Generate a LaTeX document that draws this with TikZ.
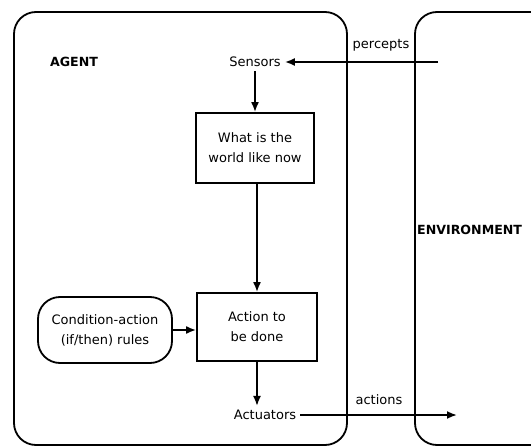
\documentclass[tikz,border=0pt]{standalone}
\usepackage{fontspec}
\setmainfont{DejaVu Sans}
\usetikzlibrary{arrows.meta}
\begin{document}
\begin{tikzpicture}[
                x=1pt, y=-1pt,
                caixa/.style={shape=rectangle, draw=black, line width=1.8pt, align=center, font=\fontsize{13}{20}\selectfont},
                regra/.style={caixa, rounded corners=22pt},
                texto/.style={font=\fontsize{13}{16}\selectfont, inner sep=4pt},
                titulo/.style={font=\fontsize{12.6}{15}\selectfont\bfseries},
                seta/.style={line width=1.8pt, -{Latex[length=10pt,width=8pt]}},
                borda/.style={line width=1.8pt, rounded corners=22pt},
            ]
            \useasboundingbox (0,0) rectangle (531,447);
            \clip (0,0) rectangle (531,447);

            \draw[borda] (14,12) rectangle (347,445);
            \draw[borda] (415,12) rectangle (570,445);

            \node[titulo] (agente) at (74,62) {AGENT};
            \node[titulo, anchor=west, inner sep=0pt] (ambiente) at (417,230) {ENVIRONMENT};

            \node[texto] (sensores) at (255,62) {Sensors};
            \node[caixa, minimum width=118pt, minimum height=70pt] (mundo) at (255,148) {What is the\\world like now};
            \node[caixa, minimum width=120pt, minimum height=68pt] (acao) at (257,327) {Action to\\be done};
            \node[regra, minimum width=134pt, minimum height=66pt] (regras) at (105,330) {Condition-action\\(if/then) rules};
            \node[texto] (atuadores) at (265,415) {Actuators};

            \coordinate (fora) at (438,62);
            \coordinate (dentro) at (457,415);
            \node[texto] (percepts) at (381,45) {percepts};
            \node[texto] (actions) at (379,400) {actions};

            \draw[seta] (fora) -- (sensores);
            \draw[seta] (sensores) -- (mundo);
            \draw[seta] (acao.north |- mundo.south) -- (acao.north);
            \draw[seta] (regras.east) -- (regras.east -| acao.west);
            \draw[seta] (acao.south) -- (acao.south |- atuadores.north);
            \draw[seta] (atuadores) -- (dentro);
        \end{tikzpicture}
\end{document}
